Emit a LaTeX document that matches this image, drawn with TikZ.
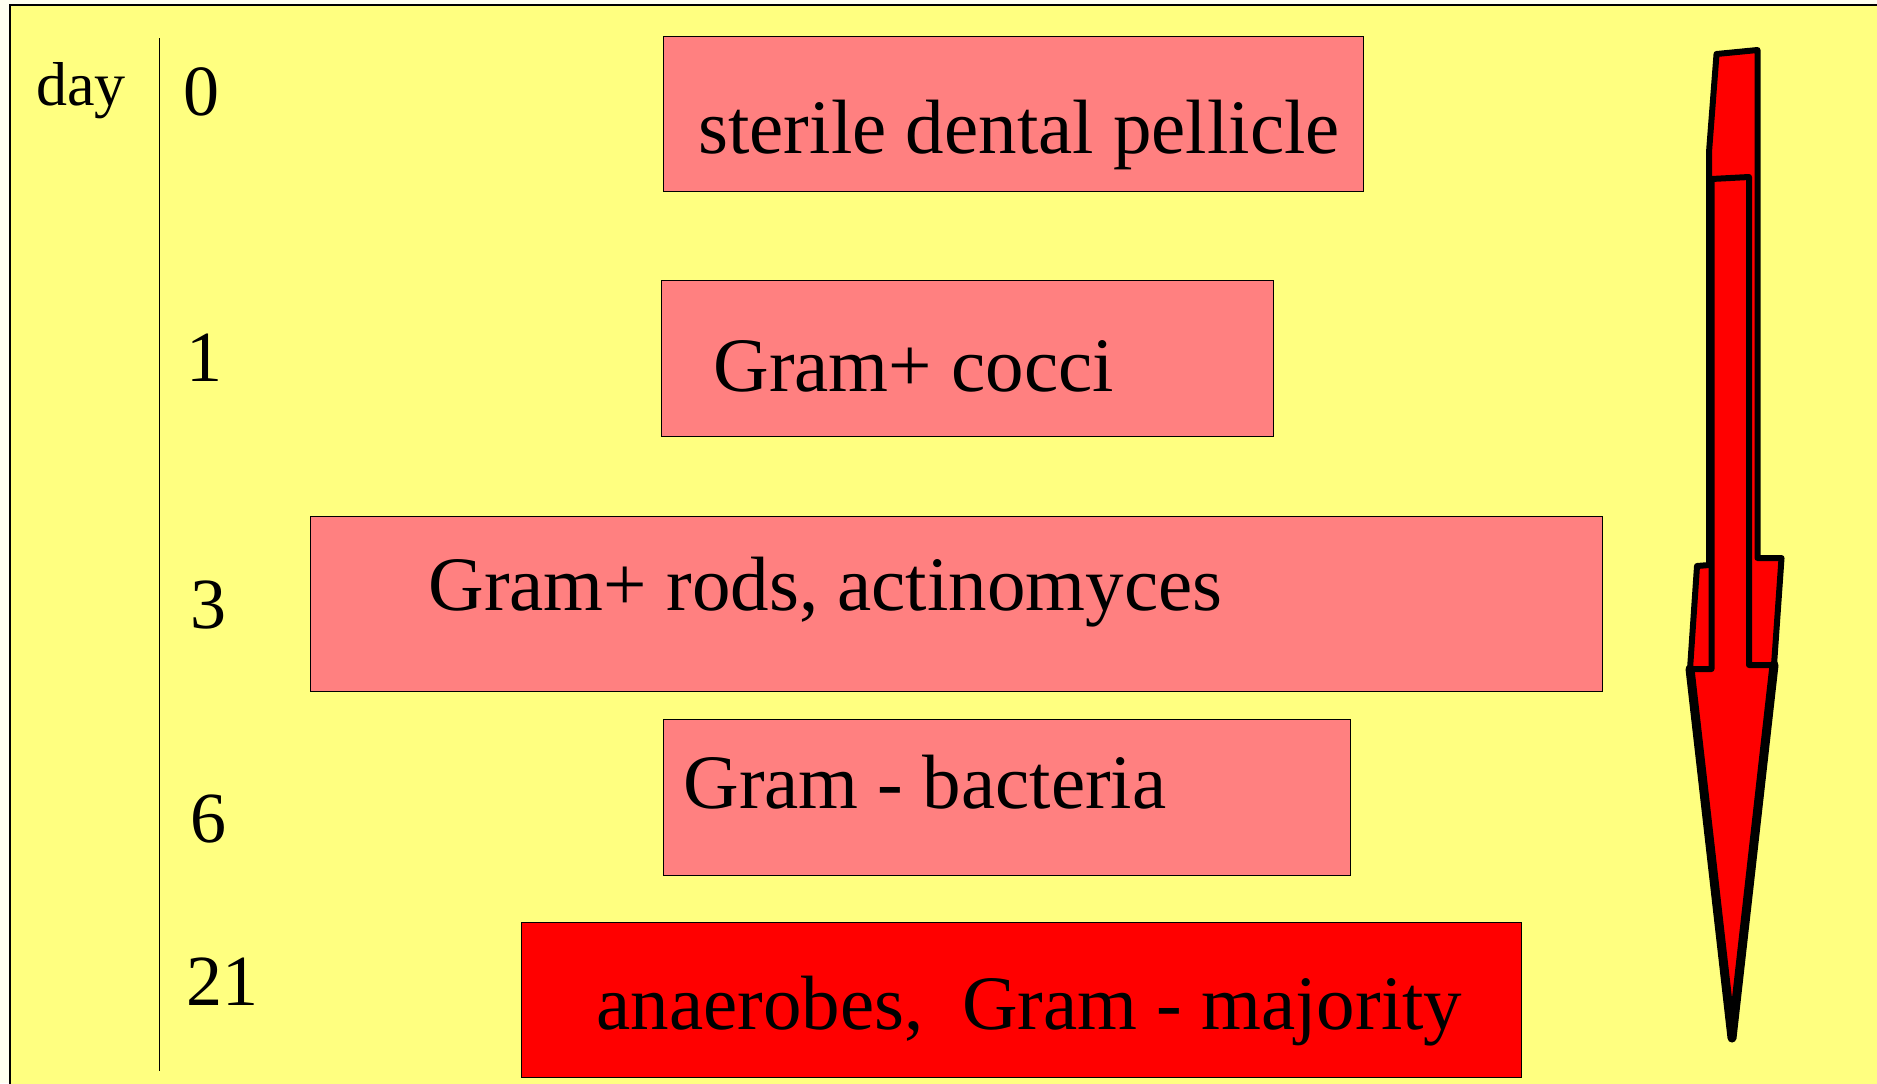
\documentclass[tikz,border=0pt]{standalone}
\usepackage{fontspec}
\setmainfont{Liberation Serif}
\definecolor{cream}{RGB}{255,255,240}
\definecolor{paleyellow}{RGB}{255,255,128}
\definecolor{salmon}{RGB}{255,128,128}
\tikzset{
  stagebox/.style={draw=black, line width=0.5pt, fill=salmon},
  stagetext/.style={anchor=base west, inner sep=0pt, font=\fontsize{38.5}{46}\selectfont},
  daynum/.style={anchor=base west, inner sep=0pt, font=\fontsize{36}{43}\selectfont},
  arrowline/.style={line width=3pt, line join=round, line cap=round}
}
\begin{document}
\begin{tikzpicture}[x=0.5pt,y=-0.5pt]
\useasboundingbox (0,0) rectangle (1877,1083);
\fill[cream] (0,0) rectangle (1877,1083);
\filldraw[fill=paleyellow, draw=black, line width=0.6pt] (10,5) rectangle (1895,1100);
% time axis
\node[anchor=base west, inner sep=0pt, font=\fontsize{31}{37}\selectfont] (day) at (36,105) {day};
\coordinate (axtop) at (159,38);
\coordinate (axbot) at (159,1071);
\draw[line width=0.5pt] (axtop) -- (axbot);
\node[daynum] (d0) at (183,115) {0};
\node[daynum] (d1) at (186,381) {1};
\node[daynum] (d3) at (190,628) {3};
\node[daynum] (d6) at (190,842) {6};
\node[daynum] (d21) at (186,1005) {21};
% stages
\draw[stagebox] (663,36) rectangle (1363,191);
\node[stagetext] (pellicle) at (698,153) {sterile dental pellicle};
\draw[stagebox] (661,280) rectangle (1273,436);
\node[stagetext] (cocci) at (713,391) {Gram+ cocci};
\draw[stagebox] (310,516) rectangle (1602,691);
\node[stagetext] (rods) at (428,610) {Gram+ rods, actinomyces};
\draw[stagebox] (663,719) rectangle (1350,875);
\node[stagetext] (gramneg) at (683,808) {Gram - bacteria};
\draw[stagebox, fill=red] (521,922) rectangle (1521,1077);
\node[stagetext] (anaer) at (596,1029) {anaerobes,\ \ Gram - majority};
% big arrow
\filldraw[arrowline, fill=red] (1716.5,54) -- (1757.5,50) -- (1757.5,558) -- (1781.5,558)
  -- (1774,665) -- (1732,1038) -- (1690,669) -- (1697,566) -- (1709,565) -- (1709,152) -- cycle;
\draw[arrowline] (1690,669) -- (1711.5,669) -- (1711.5,179) -- (1749,177) -- (1749,665) -- (1774,665);
\draw[line width=4.5pt, line cap=round, line join=round] (1690,669) -- (1732,1038) -- (1774,665);
\end{tikzpicture}
\end{document}
